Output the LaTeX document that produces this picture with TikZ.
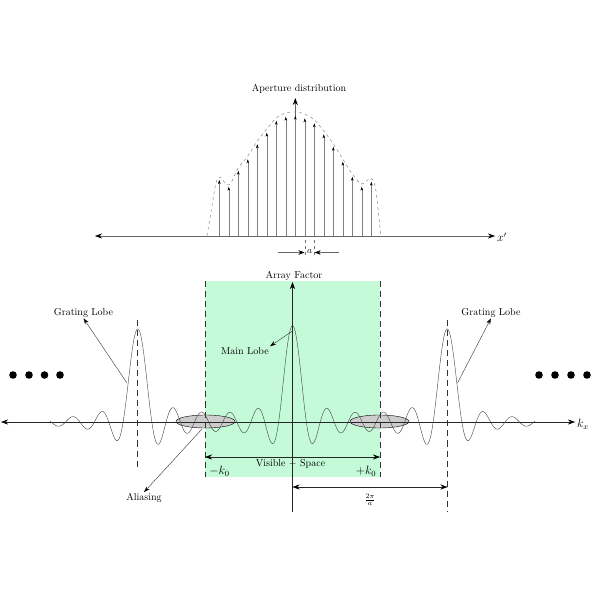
\documentclass[tikz,border=0pt]{standalone}
\usepackage{amsmath}
\usetikzlibrary{arrows,arrows.meta,shapes,positioning}
\definecolor{visgreen}{RGB}{196,250,216}
\begin{document}
\begin{tikzpicture}[x=0.035cm,y=-0.035cm]
                \tikzstyle{every node}+=[inner sep=1pt]
                \tikzstyle{bigtip}=[-{Stealth[length=7pt,width=5pt,black]}]
                \tikzstyle{twotip}=[{Stealth[length=7pt,width=5pt,black]}-{Stealth[length=7pt,width=5pt,black]}]
                \tikzstyle{stem}=[black!50, -{Stealth[length=4pt,width=2.6pt,black]}]
                \tikzstyle{pointer}=[black!80, -{Stealth[length=6pt,width=4pt,black]}]
                \tikzstyle{guide}=[black!80, dashed, dash pattern=on 6pt off 4pt]
                \useasboundingbox (0,0) rectangle (600,600);
                % aperture distribution
                \coordinate (xl) at (95,236);
                \coordinate (xr) at (495,236);
                \coordinate (ab) at (295.3,236);
                \coordinate (at) at (295.3,98);
                \draw [black!60, twotip] (xl) -- (xr);
                \node (xlab) [anchor=west] at (496,237) {\large $x'$};
                \draw [black!60, thick, bigtip] (ab) -- (at);
                \node (aplab) at (299,89) {Aperture distribution};
                \draw [stem] (219.3,236) -- (219.3,180);
                \draw [stem] (228.8,236) -- (228.8,186.7);
                \draw [stem] (238.3,236) -- (238.3,170.7);
                \draw [stem] (247.8,236) -- (247.8,159.3);
                \draw [stem] (257.3,236) -- (257.3,144.3);
                \draw [stem] (266.8,236) -- (266.8,132.7);
                \draw [stem] (276.3,236) -- (276.3,120.7);
                \draw [stem] (285.8,236) -- (285.8,116.7);
                \draw [stem] (295.3,236) -- (295.3,115.7);
                \draw [stem] (304.8,236) -- (304.8,118.3);
                \draw [stem] (314.3,236) -- (314.3,123.3);
                \draw [stem] (323.8,236) -- (323.8,134.3);
                \draw [stem] (333.3,236) -- (333.3,146.7);
                \draw [stem] (342.8,236) -- (342.8,161.7);
                \draw [stem] (352.3,236) -- (352.3,176.7);
                \draw [stem] (361.8,236) -- (361.8,186.7);
                \draw [stem] (371.3,236) -- (371.3,181.7);
                \draw [black!55, dashed] plot [smooth, tension=0.6] coordinates {(207,236) (212,206) (216,183) (220,177)
                        (228.8,185) (238.3,168) (247.8,156) (257.3,141) (266.8,129) (276.3,118) (285.8,113)
                        (295.3,112) (304.8,114) (314.3,120) (323.8,131) (333.3,144) (342.8,159) (352.3,174)
                        (361.8,184) (370.5,178) (375,186) (378,208) (380.7,236)};
                % spacing a
                \draw [black!55, dashed] (304.8,240) -- (304.8,258);
                \draw [black!55, dashed] (314.3,240) -- (314.3,258);
                \coordinate (al) at (278,252.5);
                \coordinate (ar) at (339,252.5);
                \node (alab) at (309.5,252) {\small $a$};
                \draw [black!60, -{Stealth[length=6pt,width=4.5pt,black]}] (al) -- (304.5,252.5);
                \draw [black!60, -{Stealth[length=6pt,width=4.5pt,black]}] (ar) -- (314.6,252.5);
                % visible space
                \fill [visgreen] (205,281) rectangle (380,477);
                \draw [fill=gray!40, draw=black] (205.5,421.5) ellipse (29.5 and 6.5);
                \draw [fill=gray!40, draw=black] (379.5,421.5) ellipse (29.5 and 6.5);
                \draw [guide] (205,281) -- (205,477);
                \draw [guide] (380,281) -- (380,477);
                \draw [guide] (137.5,320) -- (137.5,470);
                \draw [guide] (447.5,320) -- (447.5,512);
                % array factor
                \coordinate (kl) at (1,422);
                \coordinate (kr) at (575,422);
                \coordinate (vb) at (292.5,512);
                \coordinate (vt) at (292.5,282);
                \draw [black!85, twotip] (kl) -- (kr);
                \node (kxlab) [anchor=west] at (576,424) {\large $k_x$};
                \draw [black!85, bigtip] (vb) -- (vt);
                \node (aflab) at (294,276) {Array Factor};
                \draw [black!75] plot [domain=50:535, samples=486, smooth]
                        (\x, {422 - 91*( sin(((\x-292.5)/4.67) r)/((\x-292.5)/4.67)
                                       + sin(((\x-137.5)/4.67) r)/((\x-137.5)/4.67)
                                       + sin(((\x-447.5)/4.67) r)/((\x-447.5)/4.67) )});
                % labels
                \coordinate (mlp) at (292.5,331);
                \node (mllab) at (245,351) {Main Lobe};
                \draw [pointer] (mlp) -- (mllab.north east);
                \coordinate (glp1) at (127,383);
                \node (gllab1) at (83.5,312.5) {Grating Lobe};
                \draw [pointer] (glp1) -- (gllab1.south);
                \coordinate (glp2) at (457.5,383);
                \node (gllab2) at (491,312.5) {Grating Lobe};
                \draw [pointer] (glp2) -- (gllab2.south);
                \coordinate (alp) at (202,429);
                \node (aliaslab) at (144,498) {Aliasing};
                \draw [pointer] (alp) -- (aliaslab.north);
                % ranges
                \coordinate (vsl) at (205,457);
                \coordinate (vsr) at (380,457);
                \draw [black!85, twotip] (vsl) -- (vsr);
                \node (vslab) at (290.5,464) {Visible $-$ Space};
                \node (k0l) at (219.5,471.5) {\large $-k_0$};
                \node (k0r) at (366,471.5) {\large $+k_0$};
                \coordinate (gpl) at (292.5,487);
                \coordinate (gpr) at (447.5,487);
                \draw [black!85, twotip] (gpl) -- (gpr);
                \node (gplab) at (370,500) {$\frac{2\pi}{a}$};
                % continuation dots
                \fill (13,375) circle (3.8);
                \fill (29,375) circle (3.8);
                \fill (44.5,375) circle (3.8);
                \fill (60,375) circle (3.8);
                \fill (539,375) circle (3.8);
                \fill (555,375) circle (3.8);
                \fill (571,375) circle (3.8);
                \fill (587,375) circle (3.8);
\end{tikzpicture}
\end{document}
